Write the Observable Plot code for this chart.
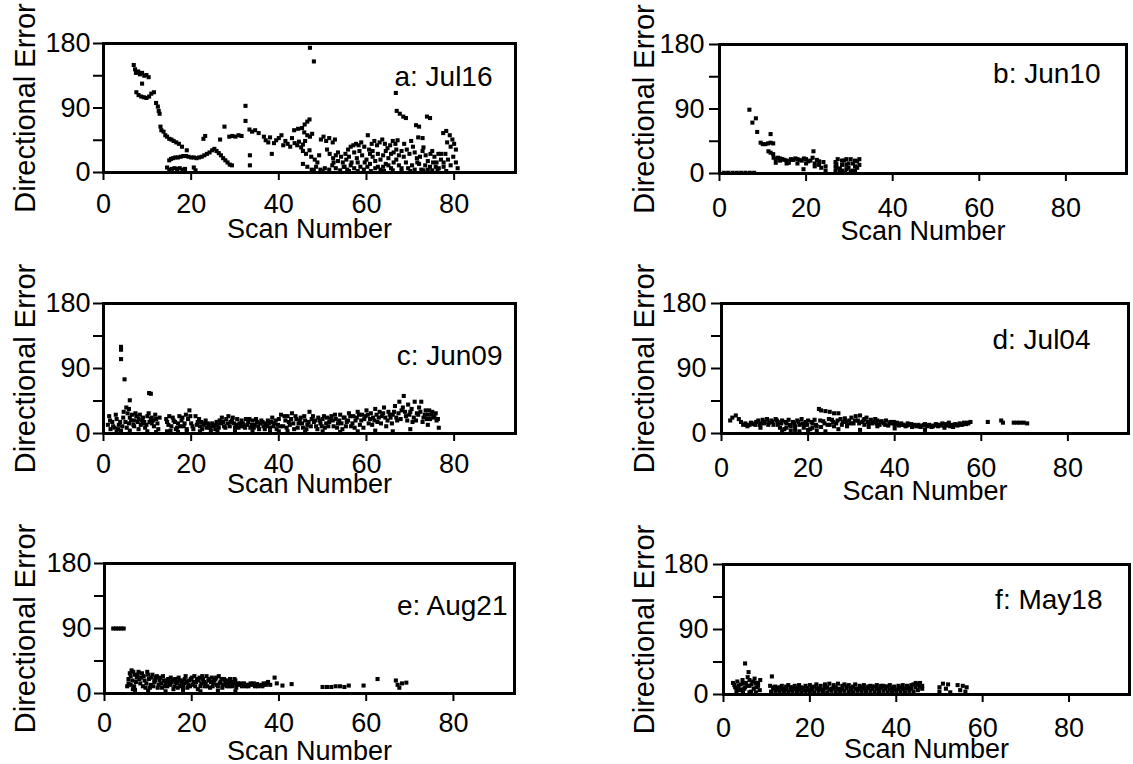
<!DOCTYPE html>
<html><head><meta charset="utf-8">
<script src="https://cdn.jsdelivr.net/npm/d3@7"></script>
<script src="https://cdn.jsdelivr.net/npm/@observablehq/plot@0.6"></script>
<style>
html,body{margin:0;padding:0;background:#fff;}
#root{position:relative;width:1133px;height:764px;overflow:hidden;background:#fff;}
#root svg{position:absolute;overflow:visible;}
</style></head><body><div id="root"></div>
<script>
// ---- data: [scan number, directional error (deg)] ----
const jul16 = [
[6.9,150],[7.2,144],[7.4,139],[7.9,141],[8.3,137],[8.8,139],[9.3,135],[9.8,136],[10.3,133],[8.8,124],[7.5,112],[8,108],[8.6,106],[9.2,105],[9.8,104],[10.4,106],[10.9,110],[11.5,112],[12,97],[12.4,92],[12.6,86],[12.8,82],[13,64],[13.2,59],[13.7,57],[14.1,52],[14.5,50],[15,47],[15.5,46],[16,44],[16.6,42],[17.2,40],[17.9,36],[19,31],
[14.5,7],[15,4],[15.6,5],[16.2,6],[16.8,5],[17.4,6],[18,4],[18.6,5],[20.6,7],[21,3],
[15,17],[15.4,19],[15.9,20],[16.4,21],[17,21],[17.6,22],[18.2,23],[18.8,23],[19.4,22],[20,21],[20.6,21],[21.2,20],[21.8,21],[22.4,22],[23,24],[23.6,26],[24.2,28],[24.8,31],[25.3,33],[25.8,30],[26.3,27],[26.8,24],[27.3,20],[27.8,17],[28.3,14],[28.8,11],[29.3,10],
[22.8,47],[23.2,51],[26.6,46],[27.6,64],[28.7,50],[29.4,51],[30.1,50],[30.8,52],[31.5,51],[32.4,93],[32.4,72],[33.4,24],[33.4,10],[33.3,60],[33.9,57],[34.6,59],[35.4,55],[36.6,50],[37,45],[37.6,42],[38,49],[38.4,26],[38.9,41],[39.4,45],[40,48],[40.6,52],[41,38],[41.5,44],[42,40],[42.6,36],[43,48],[43.6,41],[44.2,38],[44.6,43],[45.1,35],[45.5,39],[43.5,59],[44.4,61],[45.3,62],[45.9,67],[46.5,71],[47,74],[47.1,174],[48,155],
[45.8,56],[46.5,52],[47.1,50],[47.6,54],[46,44],[45.5,30],[46.2,26],[47,31],[47.4,22],[48.2,18],[48.8,14],[49.2,24],[49.6,46],[50.2,50],[50.8,44],[51.5,48],[52.3,42],[52.8,46],[51,32],[51.6,26],[52.4,20],[53,24],[53.5,16],[52.2,10],[53,6],[54,3],[54.6,14],[55.2,26],[55.8,32],[56.4,36],[57,38],[57.6,40],[58.2,38],[58.8,42],[59.5,36],[60.3,52],[60.6,32],[61.2,40],[61.8,44],[62.4,38],[63,42],[63.6,46],[64.2,40],[64.8,34],[65.4,38],[66,44],[66.6,40],[67.1,45],[55,8],[55.6,4],[56.4,10],[57.2,6],[58,14],[58.6,8],[59.4,4],[60,18],[60.8,12],[61.4,22],[62,16],[62.6,8],[63.2,4],[63.8,24],[64.4,12],[65,20],[65.6,6],[66.2,28],[66.8,18],[67.4,10],
[66.7,111],[66.9,86],[67.6,82],[68.4,78],[69,76],[68,30],[68.5,22],[69,14],[69.5,6],[70.2,44],[70.6,36],[71.3,66],[72,64],[73.8,78],[74.5,76],[71,28],[71.5,20],[72,12],[72.5,4],[73,35],[73.5,24],[74,16],[74.5,8],[75,30],[75.5,22],[76,14],[76.5,6],[77,26],[72.8,48],[71.8,49],[77.5,55],[78.2,58],[79,52],[79.6,46],[80,40],[80.4,32],[79.2,36],[78.4,42],[78,26],[78.6,18],[79.2,10],[79.8,22],[80.4,14],[80.8,6],[77.6,8],[78.2,2],
[45.5,12],[46.5,8],[47.5,4],[48.5,8],[49.5,4],[50.5,6],[51.5,4],[52.5,14],[53.5,28],[54.2,22],[54.8,8],[55.4,18],[56,22],[56.6,14],[57.2,28],[57.8,20],[58.4,30],[59,24],[59.6,14],[60.2,8],[60.8,26],[61.4,30],[62,6],[62.6,26],[63.2,18],[63.8,8],[64.4,30],[65,10],[65.6,26],[66.2,14],[66.8,32],[67.4,24],[68,6],[68.6,40],[69.2,32],[69.8,26],[70.4,10],[71,4],[71.6,14],[72.2,22],[72.8,30],[73.4,10],[74,4],[74.6,26],[75.2,14],[75.8,8],[76.4,26],[77,18],[77.6,14],[76.2,3],[75,3],[73,3],[70,2],[68,2],[66,3],[64,2],[61,2],[58,2],[56,2],[50,2],[48,3]
];
const jun10 = [
[1,1],[2,1],[3,1],[4,1],[5,1],[6,1],[7,1],[8,1],
[6.9,89],[8.4,77],[7.6,71],[8.7,58],[11.8,55],[9.5,43],[10,41],[10.6,41],[11.2,42],[11.8,43],[12.4,42],[11.3,31],[11.8,29],[12.4,27],[12.5,22],[13,20],[13.5,22],[14,21],[14.5,20],[15,19],[15.5,18],[16,17],[16.5,20],[17,19],[17.5,21],[18,20],[18.5,19],[19,18],[19.5,21],[20,20],[20.5,17],[21,18],[21.7,31],[21.5,22],[22,14],[22.5,19],[23,12],[23.5,8],[24,16],[24.5,10],[19.4,6],[13,15],[15.5,14],[18,14],
[26.8,4],[26.8,10],[26.8,16],[27.3,20],[27.8,2],[28.3,12],[28.8,18],[29.3,6],[29.8,14],[30.3,20],[30.8,4],[31.3,10],[31.8,17],[32.3,20],[29,1],[31,2],
[27,8],[27,13],[27.8,7],[28.3,4],[28.3,18],[29.3,12],[29.3,20],[29.8,8],[30.3,3],[30.8,14],[31.3,4],[31.3,18],[31.8,8],[32.3,12],[22,10],[23,17],[24.5,4],[20,14],[16,15],[14,18]
];
const jun09 = [
[4,120],[4,116],[4,103],[4.8,75],[10.4,56],[10.8,55],[6,46],[5.2,36],[4.6,30],[5.8,34],
[1,12],[1.3,24],[1.6,6],[2,16],[2.5,8],[3,20],[3.5,12],[4,4],[4.5,22],[5,16],[5.5,28],[6,22],[6.5,26],[7,18],[7.5,24],[8,20],[8.5,12],[9,22],[9.5,8],[10,24],[10.5,16],[11,22],[11.5,10],[12,20],[12.5,6],[3,2],[6,4],[8,6],[10,3],[12,2],[7,10],[9,14],[11,14],[12.8,22],
[14.3,20],[14.8,12],[15.3,4],[15.8,22],[16.3,16],[16.8,8],[17.3,24],[17.8,18],[18.3,10],[18.8,26],[19.3,20],[19.6,32],[20,14],[20.5,6],[14.5,3],[17,2],[19,3],
[21,24],[21.5,16],[22,10],[22.5,6],[23,14],[23.5,8],[24,12],[24.5,4],[25,10],[25.5,6],[26,12],[26.5,18],[27,22],[27.5,10],[28,20],[28.5,24],[29,16],[29.5,22],[30,8],[30.5,20],[31,14],[31.5,18],[32,10],[32.5,20],[33,16],[33.5,8],[34,18],[34.5,12],[35,16],[35.5,6],[36,18],[36.5,10],[37,14],[37.5,18],[38,8],[38.5,22],[39,14],[39.5,6],[40,20],[40.5,26],[41,10],[22,3],[26,3],[30,3],[34,3],[38,3],[40,3],
[41.5,18],[42,24],[42.5,12],[43,28],[43.5,6],[44,20],[44.5,14],[45,22],[45.5,8],[46,18],[46.5,12],[47,30],[47.5,20],[48,16],[48.5,10],[49,22],[49.5,14],[50,20],[50.5,8],[51,22],[51.5,16],[52,24],[52.5,10],[53,20],[53.5,14],[54,26],[54.5,6],[55,22],[55.5,16],[56,28],[56.5,10],[57,24],[57.5,18],[58,30],[58.5,12],[59,26],[59.5,20],[60,32],[42,3],[46,2],[50,3],[54,2],[58,3],
[60.5,14],[61,28],[61.5,22],[62,34],[62.5,16],[63,30],[63.5,24],[64,36],[64.5,10],[65,30],[65.5,22],[66,26],[66.5,38],[67,18],[67.5,44],[68,32],[68.5,52],[69,24],[69.5,40],[70,30],[70.5,16],[71,44],[71.5,28],[72,36],[72.5,44],[73,22],[73.5,32],[74,26],[74.5,20],[75,30],[75.5,24],[76,18],[76.5,8],[62,4],[66,3],[70,6],[74,12],
[1.5,18],[2.2,10],[2.8,26],[3.3,6],[3.8,16],[4.3,10],[5.3,8],[5.8,14],[6.3,18],[6.8,12],[7.3,28],[7.8,16],[8.3,26],[8.8,18],[9.3,16],[9.8,12],[10.3,28],[10.8,20],[11.3,18],[11.8,26],[12.3,14],
[14.5,16],[15,24],[15.5,10],[16,18],[16.5,6],[17,14],[17.5,10],[18,22],[18.5,14],[19,6],[19.8,24],[20.3,10],
[21.3,12],[21.8,20],[22.3,16],[22.8,12],[23.3,18],[23.8,14],[24.3,8],[24.8,14],[25.3,12],[25.8,16],[26.3,8],[26.8,14],[27.3,16],[27.8,8],[28.3,14],[28.8,10],[29.3,18],[29.8,14],[30.3,12],[30.8,8],[31.3,10],[31.8,14],[32.3,8],[32.8,12],[33.3,20],[33.8,12],[34.3,8],[34.8,20],[35.3,10],[35.8,14],[36.3,16],[36.8,6],[37.3,10],[37.8,14],[38.3,16],[38.8,10],[39.3,18],[39.8,12],[40.3,10],
[41.3,24],[41.8,8],[42.3,16],[42.8,20],[43.3,14],[43.8,24],[44.3,8],[44.8,18],[45.3,14],[45.8,24],[46.3,6],[46.8,16],[47.3,10],[47.8,24],[48.3,18],[48.8,6],[49.3,18],[49.8,10],[50.3,24],[50.8,14],[51.3,10],[51.8,20],[52.3,18],[52.8,26],[53.3,8],[53.8,18],[54.3,14],[54.8,22],[55.3,10],[55.8,18],[56.3,24],[56.8,14],[57.3,8],[57.8,22],[58.3,26],[58.8,18],[59.3,8],[59.8,24],
[60.3,26],[60.8,20],[61.3,12],[61.8,18],[62.3,26],[62.8,22],[63.3,14],[63.8,28],[64.3,22],[64.8,18],[65.3,26],[65.8,14],[66.3,30],[66.8,22],[67.3,28],[67.8,20],[68.3,36],[68.8,30],[69.3,18],[69.8,26],[70.3,34],[70.8,22],[71.3,18],[71.8,26],[72.3,30],[72.8,16],[73.3,26],[73.8,20],[74.3,32],[74.8,26],[75.3,22],[75.8,28],[76.3,20]
];
const jul04 = [
[2,18],[2.5,22],[3.3,25],[4,20],[4.5,16],[5,12],[5.5,14],[6,10],[6.5,12],[7,14],[7.5,13],[8,16],[8.5,18],[9,14],[9.5,19],[10,16],[10.5,20],[11,15],[11.5,18],[12,12],[12.5,20],[13,16],[13.5,8],[14,18],[14.5,6],[15,14],[15.5,19],[16,10],[16.5,16],[17,5],[17.5,18],[18,12],[18.5,20],[19,8],[19.5,16],[20,18],[20.5,6],[21,14],[21.5,19],[22,10],[22.5,34],[23,32],[23.5,17],[24,31],[24.5,12],[25,30],[25.5,19],[26,28],[26.5,14],[27,28],[27.5,20],[28,16],[28.5,21],[29,12],[29.5,18],[30,22],[30.5,14],[31,24],[31.5,18],[32,25],[32.5,16],[33,20],[33.5,22],[34,14],[34.5,19],[35,16],[35.5,20],[36,18],[36.5,12],[37,17],[37.5,14],[38,18],[38.5,11],[39,16],[39.5,14],[40,12],[40.5,15],[41,11],[41.5,14],[42,12],[42.5,10],[43,14],[43.5,12],[44,9],[44.5,12],[45,10],[45.5,12],[46,9],[46.5,11],[47,13],[47.5,10],[48,12],[48.5,9],[49,11],[49.5,13],[50,10],[50.5,12],[51,14],[51.5,8],[52,11],[52.5,15],[53,12],[53.5,9],[54,13],[54.5,11],[55,14],[55.5,12],[56,15],[56.5,13],[57,14],[57.5,16],[61.5,16],[64.6,18],[65,15],[67.5,15],[68.3,15],[69,15],[69.8,15],[70.6,14],
[14,3],[16,4],[18,3],[20,5],[22,4],[24,3],[27,6],[32,5],[40,7],[47,5],[9,8],[13,12],[19,12],[26,10],[34,9],
[5.8,12],[6.8,15],[7.8,12],[8.8,12],[9.8,14],[10.8,12],[11.8,16],[12.8,18],[13.8,14],[14.8,16],[15.8,12],[16.8,14],[17.8,16],[18.8,14],[19.8,12],[20.8,16],[21.8,12],[22.8,18],[23.8,14],[24.8,20],[25.8,16],[26.8,18],[27.8,12],[28.8,16],[29.8,14],[30.8,18],[31.8,14],[32.8,18],[33.8,16],[34.8,14],[35.8,14],[36.8,16],[37.8,12],[38.8,14],[39.8,16],[40.8,13],[41.8,12],[42.8,11],[43.8,13],[44.8,11],[45.8,10],[46.8,12],[47.8,11],[48.8,10],[49.8,12],[50.8,11],[51.8,13],[52.8,10],[53.8,12],[54.8,12],[55.8,13],[56.8,15],[15,8],[17,10],[21,8],[23,9],[25,12],[29,10],[33,12],[36,10]
];
const aug21 = [
[2,90],[2.6,90],[3.2,90],[3.8,90],[4.4,90],
[5.2,10],[5.5,20],[5.8,28],[6.2,32],[6.6,30],[7,26],[7.4,22],[7.8,30],[8.2,14],[8.6,28],[9,24],[9.4,8],[9.8,30],[10.2,20],[10.6,12],[11,26],[11.4,16],[11.8,22],[12.2,8],[12.6,18],[13,14],[13.4,24],[13.8,10],[14.2,18],[14.6,20],[15,12],[15.4,16],[15.8,6],[16.2,20],[16.6,14],[17,22],[17.4,10],[17.8,18],[18.2,14],[18.6,24],[19,8],[19.4,18],[19.8,20],[20.2,12],[20.6,24],[21,16],[21.4,6],[21.8,22],[22.2,14],[22.6,20],[23,10],[23.4,24],[23.8,18],[24.2,8],[24.6,22],[25,14],[25.4,20],[25.8,12],[26.2,24],[26.6,16],[27,8],[27.4,20],[27.8,14],[28.2,18],[28.6,10],[29,16],[29.4,12],[29.8,20],[30.2,8],[30.6,14],[31,12],[31.5,10],[32,14],[32.5,12],[33,10],[33.5,14],[34,12],[34.5,10],[35,13],[35.5,11],[36,12],[36.5,14],[37,12],[37.5,16],[38,12],[39,22],[39.5,14],[40.8,11],[42.9,13],
[50,9],[51,9],[52,9],[53,10],[54,10],[55,9],[56,11],[59.4,11],[62.6,20],[66.8,18],[67.2,12],[67.6,8],[68.2,14],[69.2,15],
[7,5],[10,4],[14,3],[18,5],[22,3],[26,4],[30,3],[6,12],[6.5,6],
[5.5,14],[6,24],[6.4,18],[6.8,10],[7.2,16],[7.6,26],[8,20],[8.4,22],[8.8,10],[9.2,18],[9.6,14],[10,26],[10.4,8],[10.8,22],[11.2,10],[11.6,18],[12,24],[12.4,12],[12.8,22],[13.2,8],[13.6,18],[14,14],[14.4,10],[14.8,16],[15.2,22],[15.6,18],[16,10],[16.4,16],[16.8,8],[17.2,18],[17.6,14],[18,10],[18.4,20],[18.8,16],[19.2,12],[19.6,10],[20,22],[20.4,16],[20.8,10],[21.2,20],[21.6,18],[22,10],[22.4,24],[22.8,16],[23.2,14],[23.6,10],[24,20],[24.4,16],[24.8,10],[25.2,18],[25.6,22],[26,10],[26.4,14],[26.8,20],[27.2,12],[27.6,18],[28,10],[28.4,14],[28.8,20],[29.2,10],[29.6,14],[30,18],[30.4,12],[31.2,14],[31.8,12],[32.4,10],[33.2,12],[34.2,14],[35.2,10],[36.2,10],[37.2,14]
];
const may18 = [
[5,43],[5.8,31],[11.2,25],
[2.2,16],[2.7,10],[3.2,18],[3.6,6],[4,14],[4.4,20],[4.8,8],[5.2,16],[5.6,24],[6,12],[6.4,4],[6.8,18],[7.2,22],[7.6,10],[8,16],[8.4,6],[4.5,3],[6,3],[7.5,3],[3,4],
[10.8,12],[11.5,8],[12,11],[12.5,6],[13,10],[13.5,12],[14,8],[14.5,11],[15,13],[15.5,6],[16,10],[16.5,12],[17,8],[17.5,13],[18,10],[18.5,6],[19,12],[19.5,9],[20,13],[20.5,7],[21,11],[21.5,14],[22,9],[22.5,12],[23,6],[23.5,14],[24,10],[24.5,15],[25,8],[25.5,13],[26,10],[26.5,15],[27,7],[27.5,12],[28,14],[28.5,9],[29,13],[29.5,6],[30,11],[30.5,14],[31,8],[31.5,12],[32,10],[32.5,13],[33,7],[33.5,11],[34,12],[34.5,8],[35,11],[35.5,13],[36,7],[36.5,10],[37,12],[37.5,8],[38,11],[38.5,13],[39,9],[39.5,11],[40,6],[40.5,12],[41,10],[41.5,13],[42,8],[42.5,12],[43,10],[43.5,13],[44,14],[44.5,16],[45,14],[45.5,16],[46,12],
[50,4],[50,10],[50.8,15],[51.5,8],[52,14],[52.5,3],[54.2,13],[54.8,6],[55.4,12],[56,4],[56.3,10],
[11,4],[12,5],[13,4],[14,3],[15,4],[16,5],[17,4],[18,3],[19,5],[20,4],[21,3],[22,5],[23,4],[24,3],[25,5],[26,4],[27,3],[28,5],[29,4],[30,3],[31,5],[32,4],[33,3],[34,5],[35,4],[36,3],[37,5],[38,4],[39,3],[40,5],[41,4],[42,3],[43,5],[44,4],[45,6],[46,8],[11.5,10],[12.5,9],[13.5,7],[14.5,7],[15.5,10],[16.5,8],[17.5,7],[18.5,9],[19.5,6],[20.5,10],[21.5,8],[22.5,7],[23.5,9],[24.5,7],[25.5,9],[26.5,8],[27.5,7],[28.5,11],[29.5,9],[30.5,8],[31.5,7],[32.5,8],[33.5,9],[34.5,11],[35.5,8],[36.5,12],[37.5,11],[38.5,7],[39.5,7],[40.5,8],[41.5,8],[42.5,9],[43.5,8],[44.5,10],[45.5,11],
[2.5,13],[3.5,12],[4.5,16],[5.5,12],[6.5,14],[7,8],[8,12],[3,9],[4,7],[5,10],[7.5,16],[6,20],[8.5,20]
];
const panelNames = ["a: Jul16", "b: Jun10", "c: Jun09", "d: Jul04", "e: Aug21", "f: May18"];
const xTicks = [0, 20, 40, 60, 80];
const yTicks = [0, 90, 180];
const yMinorTicks = [45, 135];
const xTitle = "Scan Number";
const yTitle = "Directional Error";

// ---- layout (page pixel coordinates) ----
const layout = [
  {sx:0,   sy:0,   w:566, h:255, l:103, t:43,  r:515,  b:172, ldx:-23, ldy:42, sdy:65, xo:21, yo:-13, yl:25},
  {sx:566, sy:0,   w:567, h:255, l:719, t:44,  r:1126, b:173, ldx:-26, ldy:38, sdy:66, xo:24, yo:-15, yl:644},
  {sx:0,   sy:255, w:566, h:255, l:103, t:303, r:515,  b:433, ldx:-13, ldy:61, sdy:59, xo:20, yo:-13, yl:25},
  {sx:566, sy:255, w:567, h:255, l:721, t:303, r:1128, b:433, ldx:-38, ldy:45, sdy:66, xo:24, yo:-15, yl:644},
  {sx:0,   sy:510, w:566, h:254, l:104, t:563, r:514,  b:693, ldx:-7,  ldy:51, sdy:66, xo:19, yo:-13, yl:25},
  {sx:566, sy:510, w:567, h:254, l:723, t:564, r:1129, b:694, ldx:-27, ldy:44, sdy:63, xo:23, yo:-15, yl:644}
];
const datasets = [jul16, jun10, jun09, jul04, aug21, may18];
const FONT = "'Liberation Sans', Arial, Helvetica, sans-serif";
const root = document.getElementById("root");

datasets.forEach((data, i) => {
  const L = layout[i];
  const svg = Plot.plot({
    width: L.w, height: L.h,
    marginLeft: L.l - L.sx, marginTop: L.t - L.sy,
    marginRight: L.sx + L.w - L.r, marginBottom: L.sy + L.h - L.b,
    x: {domain: [0, 94]},
    y: {domain: [0, 180]},
    style: {fontFamily: FONT, fontSize: "27px", color: "#000", background: "transparent", overflow: "visible"},
    marks: [
      Plot.axisY({ticks: yTicks.concat(yMinorTicks), tickSize: 10, tickFormat: () => "", label: null, strokeWidth: 2}),
      Plot.axisX({ticks: xTicks, tickSize: 8, tickFormat: () => "", label: null, strokeWidth: 2}),
      Plot.text(yTicks, {y: d => d, text: d => String(d), frameAnchor: "left", dx: L.yo, textAnchor: "end", lineAnchor: "middle", fontSize: 27}),
      Plot.text(xTicks, {x: d => d, text: d => String(d), frameAnchor: "bottom", dy: L.xo, textAnchor: "middle", lineAnchor: "top", fontSize: 27}),
      Plot.frame({stroke: "#000", strokeWidth: 3}),
      Plot.dot(data, {x: d => d[0], y: d => d[1], symbol: "square", r: 2.3, fill: "#000", stroke: null}),
      Plot.text([panelNames[i]], {text: d => d, frameAnchor: "top-right", dx: L.ldx, dy: L.ldy, textAnchor: "end", lineAnchor: "bottom", fontSize: 28}),
      Plot.text([xTitle], {text: d => d, frameAnchor: "bottom", dy: L.sdy, textAnchor: "middle", lineAnchor: "bottom", fontSize: 27}),
      Plot.text([yTitle], {text: d => d, frameAnchor: "left", dx: L.yl - L.l, dy: 0, rotate: -90, textAnchor: "middle", lineAnchor: "middle", fontSize: 29})
    ]
  });
  svg.style.left = L.sx + "px";
  svg.style.top = L.sy + "px";
  root.appendChild(svg);
});
</script>
</body></html>
